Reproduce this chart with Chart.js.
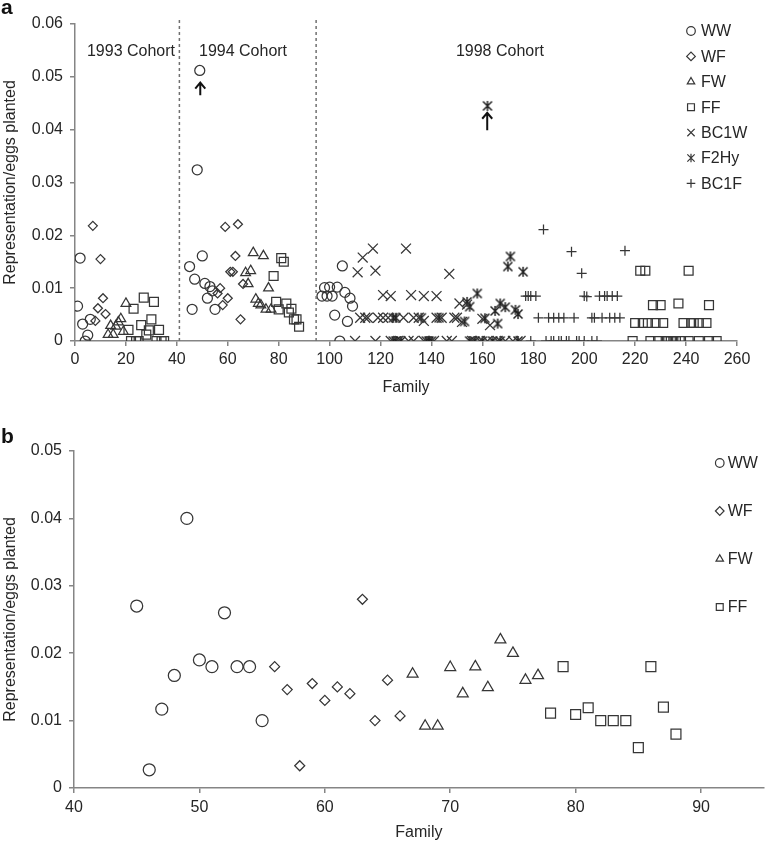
<!DOCTYPE html>
<html><head><meta charset="utf-8">
<script src="https://cdn.jsdelivr.net/npm/chart.js@4.4.1/dist/chart.umd.min.js"></script>
<style>
html,body{margin:0;padding:0;background:#fff;}
.box{position:absolute;left:0;}
</style></head><body>
<div style="position:relative;width:772px;height:845px;">
<div class="box" style="top:0;width:772px;height:400px"><canvas id="ca" width="772" height="400"></canvas></div>
<div class="box" style="top:400px;width:772px;height:445px"><canvas id="cb" width="772" height="445"></canvas></div>
</div>
<script>
// ---------- DATA: panel a (Family, representation/eggs planted) ----------
const wwA = [[1,0.0066],[2,0.0157],[3,0.0032],[4,0],[5,0.0011],[6,0.0041],
  [45,0.0141],[46,0.006],[47,0.0117],[48,0.0324],[49,0.0512],[50,0.0161],[51,0.0109],[52,0.0081],[53,0.0103],[54,0.0095],[55,0.006],
  [97,0.0085],[98,0.0101],[99,0.0085],[100,0.0102],[101,0.0085],[102,0.0049],[103,0.0102],[104,0],[105,0.0142],[106,0.0092],[107,0.0037],[108,0.0081],[109,0.0066]];
const wfA = [[7,0.0218],[8,0.0038],[9,0.0062],[10,0.0155],[11,0.0081],[12,0.0051],
  [56,0.009],[57,0.01],[58,0.0068],[59,0.0216],[60,0.0081],[61,0.0131],[62,0.0131],[63,0.0161],[64,0.0221],[65,0.0041],[66,0.0108]];
const fwA = [[13,0.0012],[14,0.0029],[15,0.0012],[16,0.0028],[17,0.0036],[18,0.0042],[19,0.0018],[20,0.0071],
  [67,0.0129],[68,0.0108],[69,0.0133],[70,0.0167],[71,0.0079],[72,0.0071],[73,0.0068],[74,0.0161],[75,0.006],[76,0.01],[77,0.006]];
const ffA = [[21,0.0021],[22,0],[23,0.0061],[24,0],[25,0],[26,0.003],[27,0.0082],[28,0.0012],[29,0.002],[30,0.0041],[31,0.0074],[32,0],[33,0.0021],[34,0],[35,0],
  [78,0.0123],[79,0.0074],[80,0.006],[81,0.0157],[82,0.015],[83,0.0071],[84,0.0054],[85,0.0061],[86,0.0041],[87,0.0041],[88,0.0027],
  [219,0],[220,0.0034],[222,0.0133],[223,0.0034],[224,0.0133],[225,0.0034],[226,0],[227,0.0068],[228,0.0034],[229,0],[230,0.0068],[231,0.0034],[232,0],[233,0],[234,0],[235,0],[236,0],[237,0.0071],[238,0],[239,0.0034],[241,0.0133],[241,0],[242,0.0034],[243,0.0034],[245,0.0034],[245,0],[248,0.0034],[249,0.0068],[249,0],[252,0]];
const bc1wA = [[111,0.013],[113,0.0158],[117,0.0175],[118,0.0133],[130,0.0175],[147,0.0127],
  [121,0.0087],[124,0.0085],[132,0.0087],[137,0.0085],[142,0.0085],[151,0.0071],[154,0.0069],
  [112,0.0044],[114,0.0044],[115,0.0044],[119,0.0044],[121,0.0044],[123,0.0044],[129,0.0044],[133,0.0044],[135,0.0044],[137,0.0038],[142,0.0044],[144,0.0044],[149,0.0044],[150,0.0044],[152,0.0036],[160,0.0042],[163,0.003],
  [110,0],[118,0],[124,0],[127,0],[131,0],[133,0],[137,0],[141,0],[146,0],[148,0],[156,0],[159,0],[162,0],[166,0],[169,0],[172,0],[175,0]];
const f2hyA = [[162,0.0445],[171,0.016],[170,0.0141],[176,0.0131],[158,0.009],[154,0.0074],[155,0.0065],[167,0.0071],[169,0.0064],[165,0.0057],[173,0.0059],[174,0.0051],[161,0.0043],[166,0.0033],[153,0.0037],
  [125,0.0044],[126,0.0044],[136,0.0044],[143,0.0044],
  [125,0],[126,0],[128,0],[138,0],[139,0],[140,0],[155,0],[157,0],[160,0],[164,0],[167,0],[174,0]];
const bc1fA = [[184,0.0211],[195,0.0169],[199,0.0128],[216,0.0171],
  [177,0.0085],[178,0.0085],[179,0.0085],[181,0.0085],[200,0.0085],[201,0.0084],[206,0.0085],[208,0.0085],[209,0.0085],[211,0.0085],[213,0.0085],
  [182,0.0044],[186,0.0044],[188,0.0044],[190,0.0044],[192,0.0044],[196,0.0044],[203,0.0044],[204,0.0044],[207,0.0044],[210,0.0044],[212,0.0044],[214,0.0044],
  [179,0],[185,0],[187,0],[188,0],[190,0],[191,0],[193,0],[194,0],[197,0],[198,0],[200,0],[203,0],[205,0]];

// ---------- DATA: panel b ----------
const wwB = [[45,0.027],[46,0.0027],[47,0.0117],[48,0.0167],[49,0.040],[50,0.019],[51,0.018],[52,0.026],[53,0.018],[54,0.018],[55,0.010]];
const wfB = [[56,0.018],[57,0.0146],[58,0.0033],[59,0.0155],[60,0.013],[61,0.015],[62,0.014],[63,0.028],[64,0.010],[65,0.016],[66,0.0107]];
const fwB = [[67,0.0169],[68,0.0092],[69,0.0092],[70,0.0179],[71,0.014],[72,0.018],[73,0.0149],[74,0.022],[75,0.020],[76,0.016],[77,0.0167]];
const ffB = [[78,0.0111],[79,0.018],[80,0.0109],[81,0.0119],[82,0.010],[83,0.010],[84,0.010],[85,0.006],[86,0.018],[87,0.012],[88,0.008]];

// ---------- annotations / labels ----------
const cohortDividers = [41, 94.7];
const cohortNames = ['1993 Cohort','1994 Cohort','1998 Cohort'];
const cohortNameFamily = [4.7, 48.7, 149.6];
const cohortNameValue = 0.0547;
const arrowFamily = [49.2, 161.9];
const arrowTip = [0.0489, 0.0432];
const arrowBase = [0.0465, 0.0399];
const legendA = ['WW','WF','FW','FF','BC1W','F2Hy','BC1F'];
const legendB = ['WW','WF','FW','FF'];
const xTicksA = {min:0, max:260, step:20};
const yTicksA = {min:0, max:0.06, step:0.01};
const xTicksB = {min:40, max:95, step:10};
const yTicksB = {min:0, max:0.05, step:0.01};

// ---------- styling ----------
const FONT = "'Liberation Sans', Arial, Helvetica, sans-serif";
const TXT = '#262626';
const AX = '#858585';
const MC = '#363636';
Chart.defaults.font.family = FONT;
Chart.defaults.color = TXT;

const toXY = a => a.map(p => ({x:p[0], y:p[1]}));

function starCanvas(size){
  const c = document.createElement('canvas'); c.width = size; c.height = size;
  const g = c.getContext('2d'); g.strokeStyle = '#222'; g.lineWidth = 1.5;
  const m = size/2, a = size/2 - 1.5;
  g.beginPath();
  g.moveTo(m-a, m-a); g.lineTo(m+a, m+a);
  g.moveTo(m+a, m-a); g.lineTo(m-a, m+a);
  g.moveTo(m, m-a-0.5); g.lineTo(m, m+a+0.5);
  g.stroke();
  return c;
}
const starBig = starCanvas(12);

function drawMarker(ctx, style, x, y, r){
  ctx.save(); ctx.strokeStyle = MC; ctx.lineWidth = 1.2; ctx.beginPath();
  if (style === 'circle') { ctx.arc(x, y, r, 0, Math.PI*2); }
  else if (style === 'rectRot') { ctx.moveTo(x-r,y); ctx.lineTo(x,y-r); ctx.lineTo(x+r,y); ctx.lineTo(x,y+r); ctx.closePath(); }
  else if (style === 'triangle') { ctx.moveTo(x, y-r); ctx.lineTo(x+r*0.866, y+r*0.5); ctx.lineTo(x-r*0.866, y+r*0.5); ctx.closePath(); }
  else if (style === 'rect') { const s = r*0.8; ctx.rect(x-s, y-s, 2*s, 2*s); }
  else if (style === 'crossRot') { const s = r*0.85; ctx.moveTo(x-s,y-s); ctx.lineTo(x+s,y+s); ctx.moveTo(x+s,y-s); ctx.lineTo(x-s,y+s); }
  else if (style === 'cross') { ctx.moveTo(x-r,y); ctx.lineTo(x+r,y); ctx.moveTo(x,y-r); ctx.lineTo(x,y+r); }
  else if (style === 'star') { const s = r*0.85; ctx.moveTo(x-s,y-s); ctx.lineTo(x+s,y+s); ctx.moveTo(x+s,y-s); ctx.lineTo(x-s,y+s); ctx.moveTo(x,y-r); ctx.lineTo(x,y+r); }
  ctx.stroke(); ctx.restore();
}

function ds(label, arr, style, r){
  return { label, data: toXY(arr), pointStyle: style, pointRadius: r, pointHoverRadius: r,
    borderColor: MC, backgroundColor: 'rgba(0,0,0,0)', borderWidth: 1.25 };
}

function axisX(t, fit, title, pad, filter){
  return { type:'linear', min:t.min, max:t.max,
    ticks:{ stepSize:t.step, font:{size:16}, color:TXT, padding:pad, maxRotation:0, autoSkip:false },
    afterBuildTicks: filter ? (s => { s.ticks = s.ticks.filter(k => Math.abs(k.value % t.step) < 1e-9); }) : undefined,
    border:{ color:AX, width:1.5 },
    grid:{ drawOnChartArea:false, tickLength:5, color:AX, lineWidth:1.5 },
    title:{ display:true, text:title, font:{size:16}, color:TXT, padding:{top:0, bottom:3} },
    afterFit: s => { s.height = fit; } };
}
function axisY(t, fit){
  return { type:'linear', min:t.min, max:t.max,
    ticks:{ stepSize:t.step, font:{size:16}, color:TXT, padding:7,
      callback: v => (Math.abs(v) < 1e-12 ? '0' : v.toFixed(2)) },
    border:{ color:AX, width:1.5 },
    grid:{ drawOnChartArea:false, tickLength:5, color:AX, lineWidth:1.5 },
    title:{ display:true, text:'Representation/eggs planted', font:{size:16}, color:TXT, padding:{top:1,bottom:0} },
    afterFit: s => { s.width = fit; } };
}

const legendStylesA = ['circle','rectRot','triangle','rect','crossRot','star','cross'];

const annotA = {
  id:'annotA',
  afterDatasetsDraw(chart){
    const ctx = chart.ctx, xs = chart.scales.x, ys = chart.scales.y, ca = chart.chartArea;
    ctx.save();
    ctx.fillStyle = TXT; ctx.font = '16px ' + FONT; ctx.textBaseline = 'middle'; ctx.textAlign = 'left';
    cohortNames.forEach((n,i) => ctx.fillText(n, xs.getPixelForValue(cohortNameFamily[i]), ys.getPixelForValue(cohortNameValue)));
    ctx.strokeStyle = '#111'; ctx.lineWidth = 2;
    arrowFamily.forEach((f,i) => {
      const x = xs.getPixelForValue(f), yt = ys.getPixelForValue(arrowTip[i]), yb = ys.getPixelForValue(arrowBase[i]);
      ctx.beginPath(); ctx.moveTo(x, yb); ctx.lineTo(x, yt);
      ctx.moveTo(x-5, yt+6); ctx.lineTo(x, yt); ctx.lineTo(x+5, yt+6); ctx.stroke();
    });
    ctx.font = '16px ' + FONT; ctx.fillStyle = TXT;
    legendA.forEach((n,i) => {
      const y = ca.top + 7 + i*25.4, x = ca.right - 46;
      drawMarker(ctx, legendStylesA[i], x, y, 4.3);
      ctx.fillText(n, x + 10, y + 1);
    });
    ctx.font = 'bold 21px ' + FONT; ctx.textBaseline = 'alphabetic'; ctx.fillStyle = '#111';
    ctx.fillText('a', 1, 14);
    ctx.restore();
  }
};

const legendStylesB = ['circle','rectRot','triangle','rect'];
const annotB = {
  id:'annotB',
  afterDatasetsDraw(chart){
    const ctx = chart.ctx, ca = chart.chartArea;
    ctx.save();
    ctx.font = '16px ' + FONT; ctx.fillStyle = TXT; ctx.textBaseline = 'middle'; ctx.textAlign = 'left';
    legendB.forEach((n,i) => {
      const y = ca.top + 12 + i*48, x = ca.right - 44;
      drawMarker(ctx, legendStylesB[i], x, y, 4.3);
      ctx.fillText(n, x + 8, y + 1);
    });
    ctx.font = 'bold 21px ' + FONT; ctx.textBaseline = 'alphabetic'; ctx.fillStyle = '#111';
    ctx.fillText('b', 1, 43);
    ctx.restore();
  }
};

const dividerSets = cohortDividers.map(f => ({
  type:'line', label:'divider', data:[{x:f, y:0}, {x:f, y:0.0612}], showLine:true, clip:false,
  borderColor:'#707070', borderWidth:1.5, borderDash:[3,3], pointRadius:0, fill:false
}));

new Chart(document.getElementById('ca'), {
  type:'scatter',
  data:{ datasets:[
    ...dividerSets,
    ds('WW', wwA, 'circle', 5),
    ds('WF', wfA, 'rectRot', 4.5),
    ds('FW', fwA, 'triangle', 5.6),
    ds('FF', ffA, 'rect', 6.3),
    ds('BC1W', bc1wA, 'crossRot', 7),
    ds('F2Hy', f2hyA, starBig, 6),
    ds('BC1F', bc1fA, 'cross', 5)
  ]},
  options:{
    responsive:false, animation:false, devicePixelRatio:1,
    layout:{ padding:{ top:24, right:35, left:0, bottom:0 } },
    plugins:{ legend:{display:false}, tooltip:{enabled:false} },
    scales:{ x: axisX(xTicksA, 59, 'Family', 4, false), y: axisY(yTicksA, 75) }
  },
  plugins:[annotA]
});

new Chart(document.getElementById('cb'), {
  type:'scatter',
  data:{ datasets:[
    ds('WW', wwB, 'circle', 6),
    ds('WF', wfB, 'rectRot', 5),
    ds('FW', fwB, 'triangle', 6.3),
    ds('FF', ffB, 'rect', 7)
  ]},
  options:{
    responsive:false, animation:false, devicePixelRatio:1,
    layout:{ padding:{ top:51, right:0, left:0, bottom:0 } },
    plugins:{ legend:{display:false}, tooltip:{enabled:false} },
    scales:{ x: axisX(xTicksB, 57, 'Family', 5, true), y: axisY(yTicksB, 74) }
  },
  plugins:[annotB]
});
</script>
</body></html>
